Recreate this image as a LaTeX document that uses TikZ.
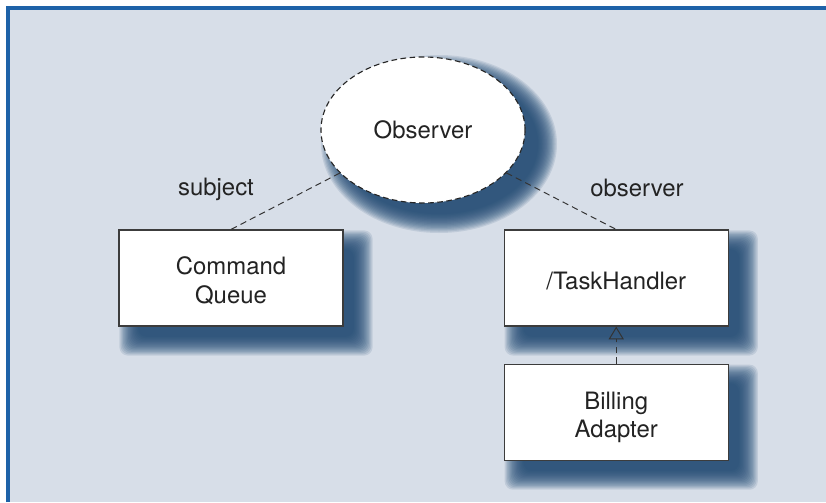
\documentclass[tikz,border=0pt]{standalone}
\usepackage{fontspec}
\setmainfont{TeX Gyre Heros}
\usetikzlibrary{arrows.meta,positioning,shapes.geometric}

\definecolor{bgblue}{RGB}{215,222,232}
\definecolor{frameblue}{RGB}{30,98,168}
\definecolor{shadeblue}{RGB}{30,72,114}
\definecolor{linegray}{RGB}{60,60,60}
\definecolor{textgray}{RGB}{35,35,35}

\pgfdeclarelayer{bg}
\pgfdeclarelayer{shade}
\pgfsetlayers{bg,shade,main}

\newcommand{\diafont}{\fontsize{17pt}{20.5pt}\selectfont}
% text set a little low in its box
\newcommand{\boxtext}[1]{%
  \raisebox{0pt}[\dimexpr\height+8pt\relax]{%
    \begin{tabular}{@{}c@{}}#1\end{tabular}}}
% soft shadow under a box
\newcommand{\boxshade}[1]{%
  \foreach \i in {0,...,15}
    \fill[shadeblue, opacity=0.12, rounded corners=6pt]
      ([shift={(1+1.25*\i,-29+1.25*\i)}]#1.south west) rectangle
      ([shift={(29-1.25*\i,-1-1.25*\i)}]#1.north east);
}

\begin{document}
\begin{tikzpicture}[
  x=0.025cm, y=0.025cm,
  classbox/.style={rectangle, draw=linegray, line width=0.8pt, fill=white,
    minimum width=5.6cm, minimum height=2.4cm, inner sep=0pt,
    font=\diafont, text=textgray},
  patnode/.style={ellipse, draw=black!85, fill=white, line width=0.8pt,
    dash pattern=on 4pt off 2.5pt, minimum width=5.1cm,
    minimum height=3.65cm, font=\diafont, text=textgray},
  rolelink/.style={draw=black!80, line width=0.7pt,
    dash pattern=on 4.5pt off 3pt},
  rolelabel/.style={font=\diafont, text=textgray},
]
  \useasboundingbox (0,0) rectangle (826,502);
  % Frame
  \begin{pgfonlayer}{bg}
    \fill[bgblue] (8,0) rectangle (826,494);
    \draw[frameblue, line width=2.2pt, line join=miter]
      (8,0) -- (8,494) -- (826,494);
  \end{pgfonlayer}
  % Pattern
  \node[patnode] (obs) at (423,372) {Observer};
  % Participants
  \node[classbox] (cq) at (231,224) {\boxtext{Command\\Queue}};
  \node[classbox, right=4cm of cq] (th) {\boxtext{/TaskHandler}};
  \node[classbox, below=0.925cm of th] (ba) {\boxtext{Billing\\Adapter}};
  % Shadows
  \begin{pgfonlayer}{shade}
    \foreach \i in {0,...,15}{
      \pgfmathsetmacro\rx{(118-1.25*\i)*0.025}
      \pgfmathsetmacro\ry{(89-1.25*\i)*0.025}
      \fill[shadeblue, opacity=0.12] ([shift={(16,-14)}]obs.center)
        ellipse [x radius=\rx cm, y radius=\ry cm];
    }
    \boxshade{cq}
    \boxshade{th}
    \boxshade{ba}
  \end{pgfonlayer}
  % Roles
  \draw[rolelink] (obs) -- (cq.north);
  \draw[rolelink] (obs) -- (th.north);
  \node[rolelabel] (subj) at (216,313) {subject};
  \node[rolelabel] (obsv) at (637,314) {observer};
  % Realization
  \draw[rolelink, -{Triangle[open, length=0.32cm, width=0.38cm]}]
    (ba) -- (th);
\end{tikzpicture}
\end{document}
